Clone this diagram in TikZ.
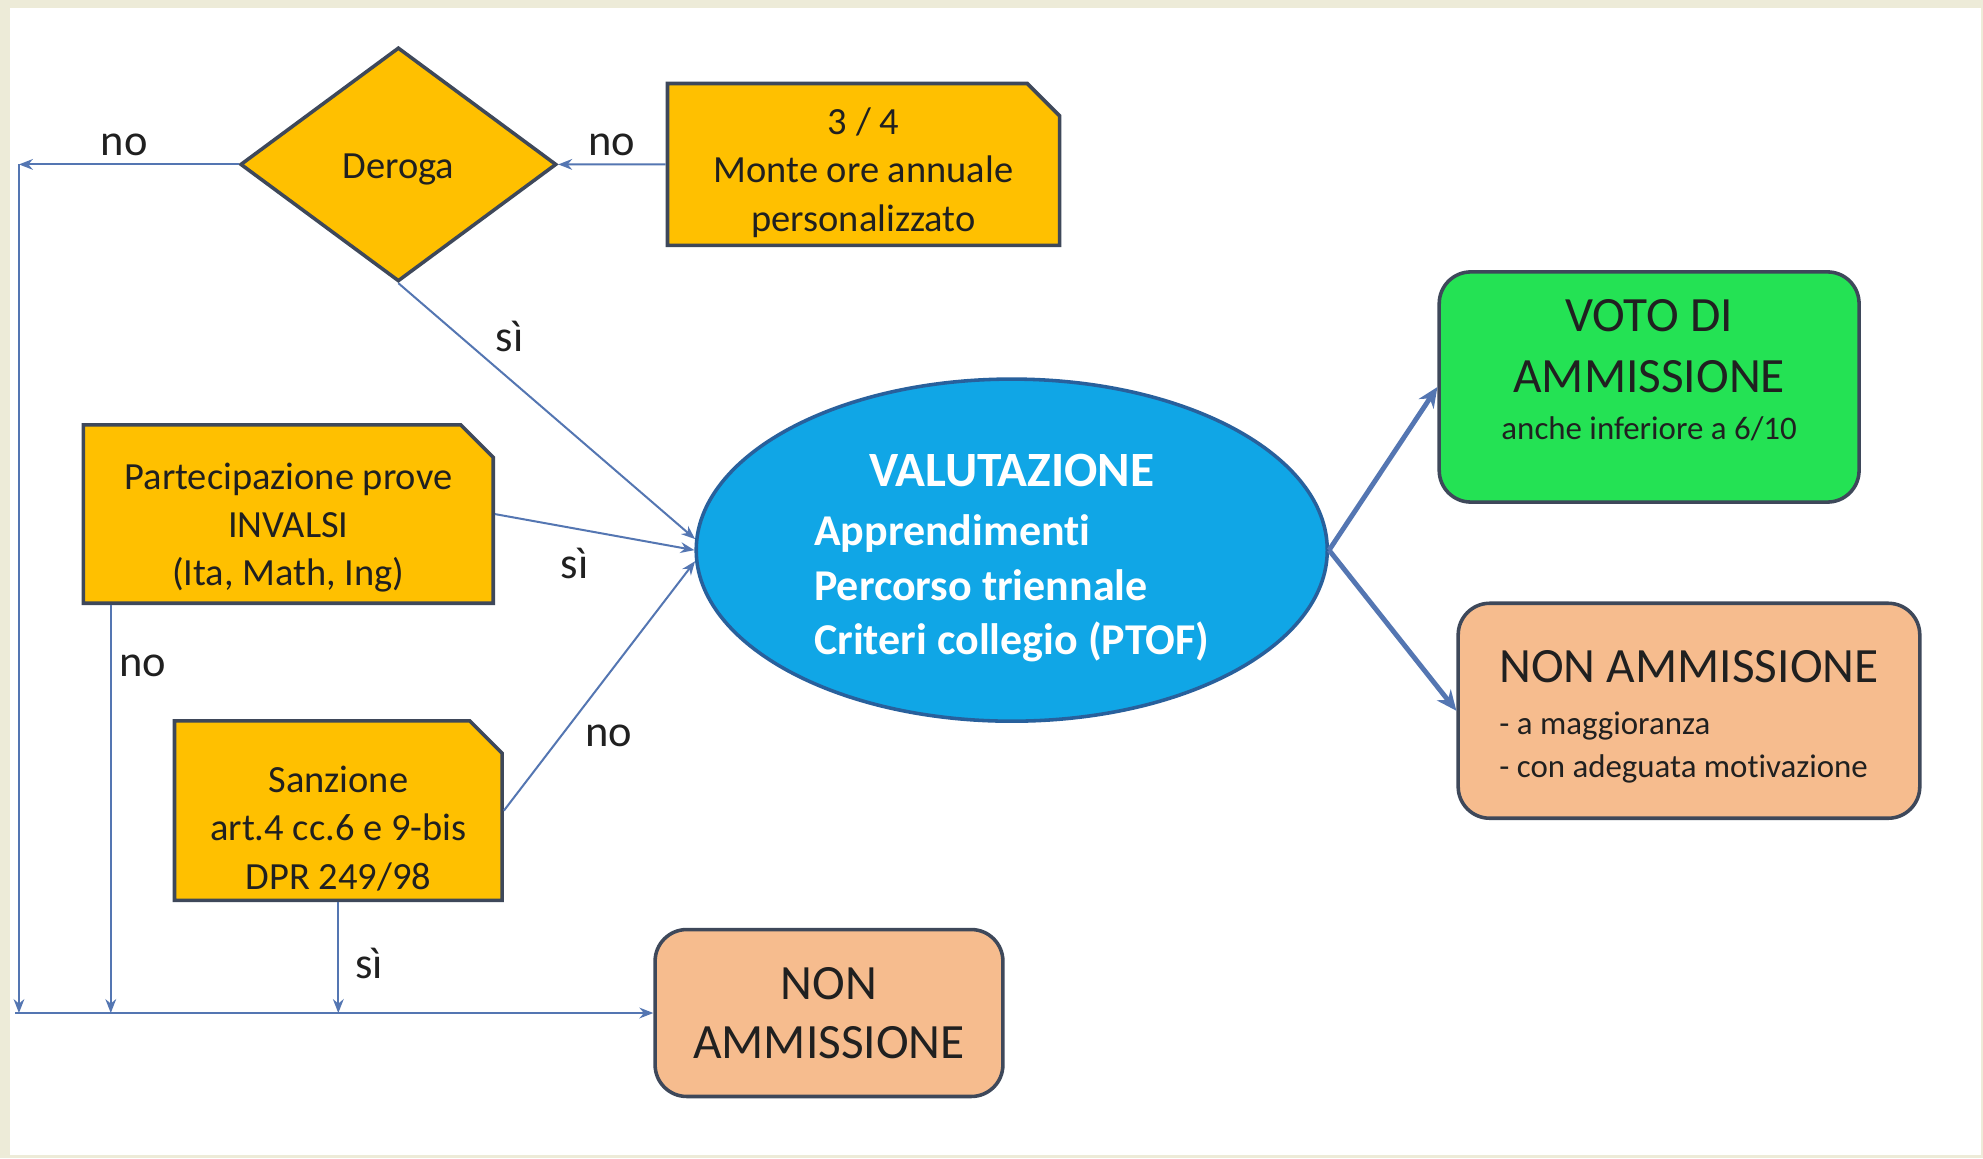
\documentclass[tikz,border=0pt]{standalone}
\usepackage{fontspec}
\setmainfont{Carlito}[Ligatures=NoCommon]
\usepackage{tikz}
\usetikzlibrary{arrows.meta, positioning, shapes.geometric, shapes.misc}

\definecolor{crema}{RGB}{237,235,216}
\definecolor{oro}{RGB}{255,192,0}
\definecolor{borde}{RGB}{62,72,90}
\definecolor{enlace}{RGB}{84,118,178}
\definecolor{cielo}{RGB}{16,166,230}
\definecolor{bordecielo}{RGB}{40,96,156}
\definecolor{menta}{RGB}{36,226,84}
\definecolor{durazno}{RGB}{246,188,142}
\definecolor{tinta}{RGB}{32,32,32}

\begin{document}
\begin{tikzpicture}[auto, >=Stealth]
          % Definición de estilos para los bloques y conexiones
          \tikzstyle{decision} = [diamond, draw=borde, fill=oro, line width=1.6pt, minimum width=5cm, minimum height=3.7cm, inner sep=0pt, text=tinta, font=\fontsize{17.3}{21.8}\selectfont]
          \tikzstyle{snipbox} = [chamfered rectangle, chamfered rectangle corners=north east, chamfered rectangle xsep=0.4cm, draw=borde, fill=oro, line width=1.6pt, align=center, inner sep=0pt, text=tinta, font=\fontsize{17.3}{21.8}\selectfont]
          \tikzstyle{roundbox} = [rectangle, rounded corners=0.5cm, draw=borde, line width=1.6pt, align=center, inner sep=0pt, text=tinta]
          \tikzstyle{valuta} = [ellipse, draw=bordecielo, fill=cielo, line width=1.6pt, minimum width=9.98cm, minimum height=5.4cm, inner sep=0pt, text=white, font=\fontsize{19.8}{24.5}\selectfont\bfseries]
          \tikzstyle{link} = [draw=enlace, line width=0.9pt, -{Stealth[length=0.22cm, width=0.17cm]}]
          \tikzstyle{bigarrow} = [draw=enlace, line width=2.2pt, -{Stealth[length=0.32cm, width=0.28cm]}]
          \tikzstyle{lbl} = [text=tinta, font=\fontsize{20}{24}\selectfont]

          % Fondo
          \fill [crema] (0,0) rectangle (31.36,-18.313);
          \fill [white] (0.16,-0.12) rectangle (31.32,-18.26);
          \useasboundingbox (0,0) rectangle (31.36,-18.313);

          % Definición de nodos
          \node at (6.30,-2.60) [decision] (deroga) {\rule{0pt}{16pt}Deroga};
          \node [snipbox, right=1.7cm of deroga, minimum width=6.2cm, minimum height=2.56cm] (monte) {\rule{0pt}{19.5pt}3 / 4\\ Monte ore annuale\\ personalizzato};
          \node at (4.56,-8.13) [snipbox, minimum width=6.48cm, minimum height=2.82cm] (invalsi) {\rule{0pt}{24pt}Partecipazione prove\\ INVALSI\\ (Ita, Math, Ing)};
          \node at (5.35,-12.82) [snipbox, minimum width=5.18cm, minimum height=2.84cm] (sanzione) {\rule{0pt}{28pt}Sanzione\\ art.4 cc.6 e 9-bis\\ DPR 249/98};
          \node at (16.0,-8.70) [valuta] (valutazione) {\begin{tabular}{@{}l@{}}\multicolumn{1}{@{}c@{}}{\rule{0pt}{26pt}\fontsize{22.2}{26}\selectfont VALUTAZIONE}\\[2pt] Apprendimenti\\ Percorso triennale\\ Criteri collegio (PTOF)\end{tabular}};
          \node at (26.08,-6.12) [roundbox, fill=menta, minimum width=6.64cm, minimum height=3.64cm, font=\fontsize{14.8}{23.3}\selectfont] (voto) {{\fontsize{22.2}{27.3}\selectfont VOTO DI}\\[4pt] {\fontsize{22.2}{27.3}\selectfont AMMISSIONE}\\[-2pt] anche inferiore a 6/10\rule[-15.5pt]{0pt}{1pt}};
          \node at (26.71,-11.24) [roundbox, fill=durazno, minimum width=7.3cm, minimum height=3.4cm, align=left, font=\fontsize{14.8}{19.4}\selectfont] (nonright) {\rule{0pt}{20pt}{\fontsize{22.2}{26.2}\selectfont NON AMMISSIONE}\\[4pt] - a maggioranza\\ - con adeguata motivazione};
          \node at (13.11,-16.02) [roundbox, fill=durazno, minimum width=5.5cm, minimum height=2.64cm, font=\fontsize{22.2}{26.7}\selectfont] (nonbottom) {NON\\ AMMISSIONE};
          \coordinate (c1) at (0.30,-2.60);
          \coordinate (b0) at (0.24,-16.02);
          \coordinate [right=0.46cm of invalsi.south west] (n1);

          % Conexiones entre nodos
          \draw [link] (monte) -- node [lbl, above] {no} (deroga);
          \draw [link] (deroga.west) -- node [lbl, above, pos=0.52] {no} (c1);
          \draw [link] (c1) -- (c1 |- b0);
          \draw [link] (n1) -- node [lbl, right, pos=0.15] {no} (n1 |- b0);
          \draw [link] (sanzione.south) -- node [lbl, right=4pt, pos=0.55] {sì} (sanzione.south |- b0);
          \draw [link] (b0) -- (nonbottom.west);
          \draw [link] (deroga.south) -- node [lbl, above right, pos=0.3] {sì} (valutazione.178);
          \draw [link] (invalsi.east) -- node [lbl, below=5pt, pos=0.4] {sì} (valutazione.west);
          \draw [link] (sanzione.east) -- node [lbl, right=7pt, pos=0.3] {no} (valutazione.182);
          \draw [bigarrow] (valutazione.east) -- (voto.west);
          \draw [bigarrow] (valutazione.east) -- (nonright.west);
        \end{tikzpicture}
\end{document}
